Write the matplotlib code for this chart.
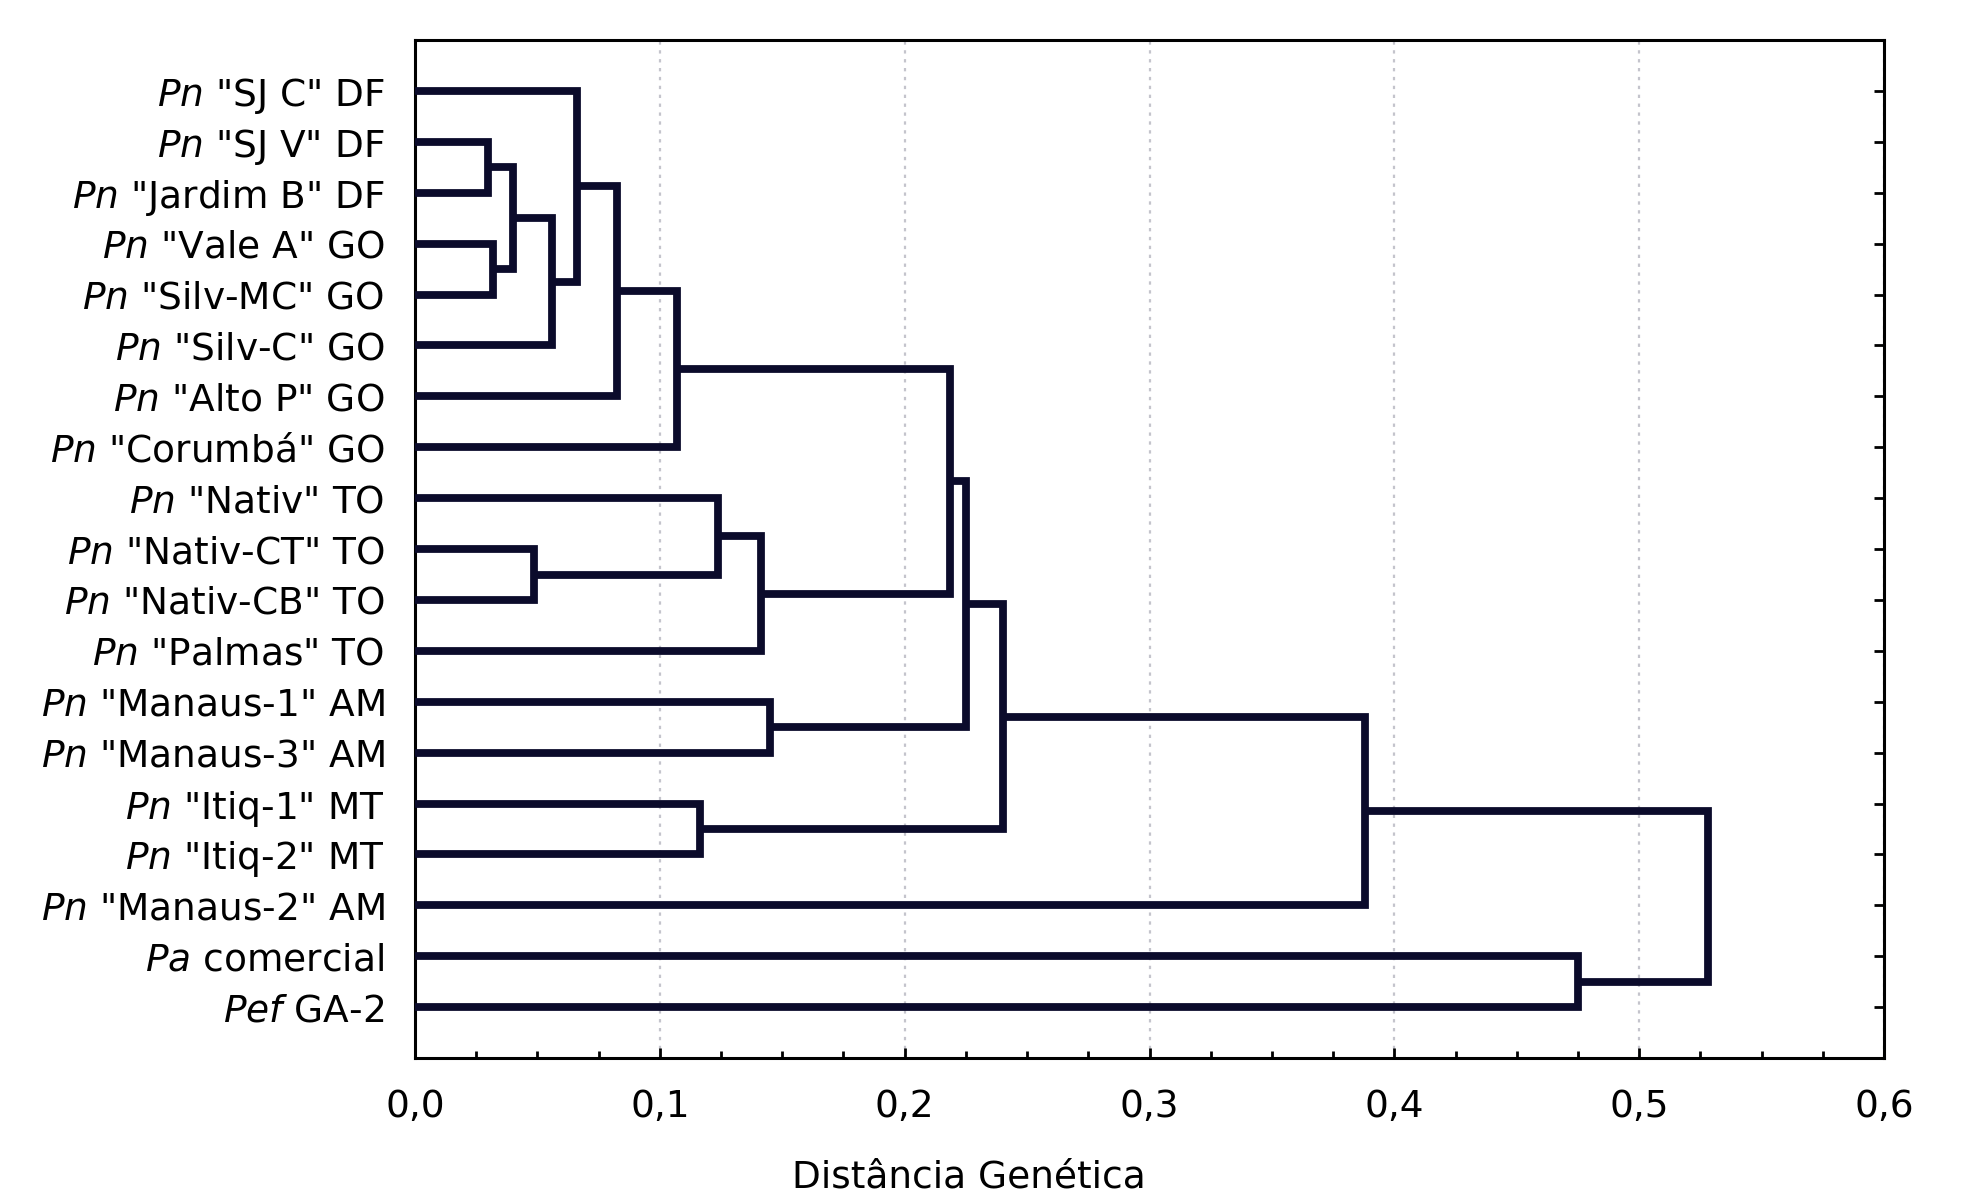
import matplotlib
matplotlib.use("Agg")
import matplotlib.pyplot as plt
from matplotlib.ticker import MultipleLocator, FuncFormatter

plt.rcParams['font.family'] = ['DejaVu Sans']
plt.rcParams['mathtext.fontset'] = 'custom'
plt.rcParams['mathtext.it'] = 'DejaVu Sans:italic'
plt.rcParams['mathtext.rm'] = 'DejaVu Sans'

# leaves, top to bottom
prefixes = ['Pn'] * 17 + ['Pa', 'Pef']
names = ['"SJ C" DF', '"SJ V" DF', '"Jardim B" DF', '"Vale A" GO',
         '"Silv-MC" GO', '"Silv-C" GO', '"Alto P" GO', '"Corumbá" GO',
         '"Nativ" TO', '"Nativ-CT" TO', '"Nativ-CB" TO', '"Palmas" TO',
         '"Manaus-1" AM', '"Manaus-3" AM', '"Itiq-1" MT', '"Itiq-2" MT',
         '"Manaus-2" AM', 'comercial', 'GA-2']

# merges: new cluster id = 19 + row index
merge_a = [1, 3, 19, 21, 0, 23, 24, 9, 8, 27, 12, 14, 25, 31, 32, 33, 17, 34]
merge_b = [2, 4, 20, 5, 22, 6, 7, 10, 26, 11, 13, 15, 28, 29, 30, 16, 18, 35]
heights = [0.030, 0.032, 0.040, 0.056, 0.066, 0.0826, 0.107, 0.0487, 0.1236,
           0.1415, 0.145, 0.1164, 0.2185, 0.225, 0.240, 0.388, 0.475, 0.528]

line_col = '#0b0b2b'

fig = plt.figure(figsize=(19.67, 12), dpi=100)
ax = fig.add_axes([0.211, 0.1183, 0.7468, 0.8483])

n = len(names)
xpos = {i: 0.0 for i in range(n)}
ypos = {i: i + 1 for i in range(n)}
for k, (a, b, h) in enumerate(zip(merge_a, merge_b, heights)):
    ax.plot([xpos[a], h, h, xpos[b]], [ypos[a], ypos[a], ypos[b], ypos[b]],
            color=line_col, lw=5.6, solid_joinstyle='miter',
            solid_capstyle='butt', zorder=3)
    xpos[n + k] = h
    ypos[n + k] = (ypos[a] + ypos[b]) / 2

ax.set_xlim(0, 0.6)
ax.set_ylim(n + 1, 0)

ax.xaxis.set_major_locator(MultipleLocator(0.1))
ax.xaxis.set_minor_locator(MultipleLocator(0.025))
ax.xaxis.set_major_formatter(FuncFormatter(lambda v, p: f'{v:.1f}'.replace('.', ',')))
ax.grid(axis='x', which='major', linestyle=(0, (1.5, 2.5)), color='#c4c4cc', lw=1.6, zorder=1)

ax.set_yticks(range(1, n + 1))
ax.set_yticklabels([rf'$\it{{{p}}}$ {s}' for p, s in zip(prefixes, names)])

ax.tick_params(axis='x', which='major', direction='in', length=7, width=2,
               labelsize=27, pad=22)
ax.tick_params(axis='x', which='minor', direction='in', length=5, width=2)
ax.tick_params(axis='y', direction='in', length=7, width=2, left=False,
               right=True, labelsize=27, pad=22)

for sp in ax.spines.values():
    sp.set_linewidth(2.2)
    sp.set_color('black')

ax.set_xlabel('Distância Genética', fontsize=27)
ax.xaxis.set_label_coords(0.377, -0.100)

fig.savefig('out.png', dpi=100)
